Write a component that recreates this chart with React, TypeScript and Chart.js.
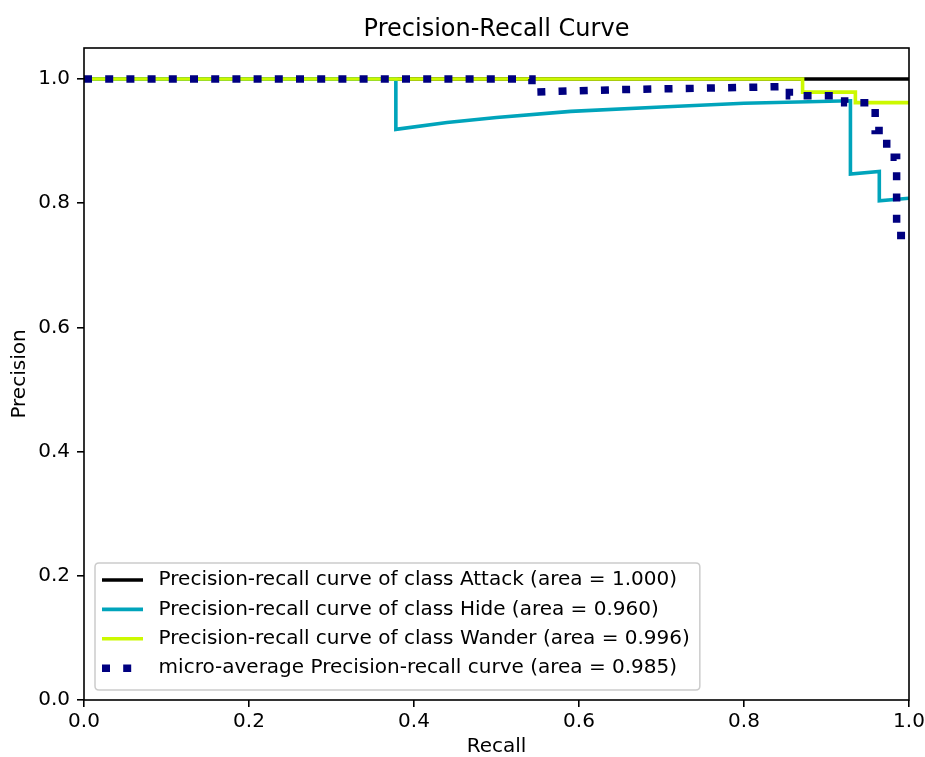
import React, { useEffect, useRef } from 'react';
import { Chart, registerables } from 'chart.js';

Chart.register(...registerables);

const TITLE = 'Precision-Recall Curve';
const X_LABEL = 'Recall';
const Y_LABEL = 'Precision';
const X_TICK_STEP = 0.2;
const Y_MAX = 1.05;

const SERIES_LABELS = [
  'Precision-recall curve of class Attack (area = 1.000)',
  'Precision-recall curve of class Hide (area = 0.960)',
  'Precision-recall curve of class Wander (area = 0.996)',
  'micro-average Precision-recall curve (area = 0.985)',
];

const attackRecall = [0, 1];
const attackPrecision = [1, 1];

const hideRecall = [0, 0.378, 0.378, 0.44, 0.5, 0.59, 0.7, 0.8, 0.929, 0.929, 0.964, 0.964, 1.0];
const hidePrecision = [1, 1, 0.919, 0.93, 0.938, 0.948, 0.955, 0.961, 0.965, 0.847, 0.851, 0.804, 0.808];

const wanderRecall = [0, 0.871, 0.871, 0.935, 0.935, 1.0];
const wanderPrecision = [1, 1, 0.979, 0.979, 0.962, 0.962];

const microRecall = [0, 0.543, 0.543, 0.65, 0.74, 0.855, 0.855, 0.922, 0.922, 0.959, 0.959, 0.973, 0.973, 0.985, 0.985, 1.0];
const microPrecision = [1, 1, 0.979, 0.983, 0.985, 0.988, 0.973, 0.973, 0.962, 0.962, 0.917, 0.917, 0.874, 0.874, 0.748, 0.748];

const COLORS = ['#000000', 'rgb(0,164,187)', 'rgb(204,249,0)', '#000080'];

const FONT = '"DejaVu Sans", sans-serif';

const mk = (xs: number[], ys: number[]) => xs.map((x, i) => ({ x, y: ys[i] }));

const framePlugin = {
  id: 'mplFrame',
  afterDatasetsDraw(chart: any) {
    const { ctx, chartArea } = chart;
    const { left, top, right, bottom } = chartArea;
    ctx.save();
    // spines
    ctx.strokeStyle = '#000';
    ctx.lineWidth = 1.6;
    ctx.setLineDash([]);
    ctx.strokeRect(left, top, right - left, bottom - top);

    // title
    ctx.fillStyle = '#000';
    ctx.font = `24px ${FONT}`;
    ctx.textAlign = 'center';
    ctx.textBaseline = 'alphabetic';
    ctx.fillText(TITLE, (left + right) / 2, top - 12);

    // legend
    ctx.font = `20px ${FONT}`;
    const widths = SERIES_LABELS.map((t) => ctx.measureText(t).width);
    const maxW = Math.max(...widths);
    const boxX = left + 11;
    const boxH = 127;
    const boxY = bottom - 10 - boxH;
    const handleStart = boxX + 7;
    const handleEnd = boxX + 48;
    const textX = boxX + 63.6;
    const boxW = textX - boxX + maxW + 10;
    const r = 4;
    ctx.beginPath();
    ctx.moveTo(boxX + r, boxY);
    ctx.lineTo(boxX + boxW - r, boxY);
    ctx.quadraticCurveTo(boxX + boxW, boxY, boxX + boxW, boxY + r);
    ctx.lineTo(boxX + boxW, boxY + boxH - r);
    ctx.quadraticCurveTo(boxX + boxW, boxY + boxH, boxX + boxW - r, boxY + boxH);
    ctx.lineTo(boxX + r, boxY + boxH);
    ctx.quadraticCurveTo(boxX, boxY + boxH, boxX, boxY + boxH - r);
    ctx.lineTo(boxX, boxY + r);
    ctx.quadraticCurveTo(boxX, boxY, boxX + r, boxY);
    ctx.closePath();
    ctx.fillStyle = 'rgba(255,255,255,0.8)';
    ctx.fill();
    ctx.strokeStyle = '#cccccc';
    ctx.lineWidth = 1.5;
    ctx.stroke();

    const datasets = chart.data.datasets;
    for (let i = 0; i < datasets.length; i++) {
      const ds = datasets[i];
      const y = boxY + 17 + i * 29.4;
      ctx.beginPath();
      ctx.strokeStyle = ds.borderColor;
      ctx.lineWidth = ds.borderWidth;
      ctx.lineCap = 'butt';
      ctx.setLineDash(ds.borderDash || []);
      ctx.moveTo(handleStart, y);
      ctx.lineTo(handleEnd, y);
      ctx.stroke();
      ctx.setLineDash([]);
      ctx.fillStyle = '#000';
      ctx.textAlign = 'left';
      ctx.textBaseline = 'middle';
      ctx.fillText(ds.label, textX, y);
    }
    ctx.restore();
  },
};

export default function App() {
  const ref = useRef<HTMLCanvasElement>(null);
  useEffect(() => {
    const canvas = ref.current;
    if (!canvas) return;
    Chart.defaults.font.family = FONT;
    Chart.defaults.color = '#000';
    const chart = new Chart(canvas, {
      type: 'line',
      data: {
        datasets: [
          { label: SERIES_LABELS[0], data: mk(attackRecall, attackPrecision), borderColor: COLORS[0], borderWidth: 3.6, order: 4 },
          { label: SERIES_LABELS[1], data: mk(hideRecall, hidePrecision), borderColor: COLORS[1], borderWidth: 3.6, order: 3 },
          { label: SERIES_LABELS[2], data: mk(wanderRecall, wanderPrecision), borderColor: COLORS[2], borderWidth: 3.6, order: 2 },
          { label: SERIES_LABELS[3], data: mk(microRecall, microPrecision), borderColor: COLORS[3], borderWidth: 7.5, borderDash: [8, 13.2], order: 1 },
        ] as any,
      },
      options: {
        animation: false,
        responsive: false,
        elements: {
          point: { radius: 0, hoverRadius: 0 },
          line: { tension: 0, fill: false, borderJoinStyle: 'miter', borderCapStyle: 'butt' },
        },
        layout: { padding: { top: 48, right: 16, left: 0, bottom: 0 } },
        plugins: {
          legend: { display: false },
          title: { display: false },
          tooltip: { enabled: false },
        },
        scales: {
          x: {
            type: 'linear',
            min: 0,
            max: 1,
            afterFit: (s: any) => {
              s.height = 57;
              s.paddingLeft = 0;
              s.paddingRight = 0;
            },
            ticks: {
              stepSize: X_TICK_STEP,
              includeBounds: false,
              padding: 5,
              color: '#000',
              font: { size: 20, lineHeight: 1 },
              maxRotation: 0,
              autoSkip: false,
              callback: (v: any) => Number(v).toFixed(1),
            },
            grid: { drawOnChartArea: false, drawTicks: true, tickLength: 7, color: '#000', lineWidth: 1.6 },
            border: { display: false },
            title: { display: true, text: X_LABEL, color: '#000', font: { size: 20, lineHeight: 1 }, padding: { top: 0, bottom: 0 } },
          },
          y: {
            type: 'linear',
            min: 0,
            max: Y_MAX,
            afterFit: (s: any) => {
              s.width = 84;
              s.paddingTop = 0;
              s.paddingBottom = 0;
            },
            ticks: {
              stepSize: X_TICK_STEP,
              includeBounds: false,
              padding: 7,
              color: '#000',
              font: { size: 20, lineHeight: 1 },
              autoSkip: false,
              callback: (v: any) => Number(v).toFixed(1),
            },
            grid: { drawOnChartArea: false, drawTicks: true, tickLength: 7, color: '#000', lineWidth: 1.6 },
            border: { display: false },
            title: { display: true, text: Y_LABEL, color: '#000', font: { size: 20, lineHeight: 1 }, padding: { top: 9.5, bottom: 0 } },
          },
        },
      } as any,
      plugins: [framePlugin],
    });
    return () => chart.destroy();
  }, []);
  return (
    <div style={{ position: 'fixed', left: 0, top: 0, width: 925, height: 757, background: '#fff' }}>
      <canvas ref={ref} width={925} height={757} style={{ display: 'block', width: 925, height: 757 }} />
    </div>
  );
}
